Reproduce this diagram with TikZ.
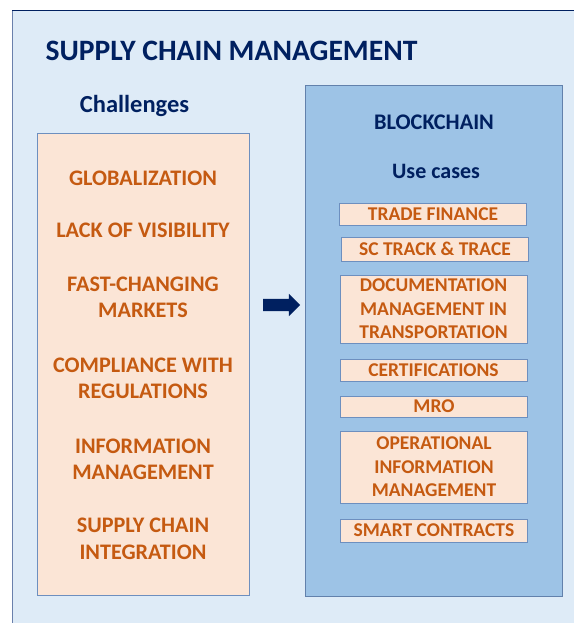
\documentclass[tikz,border=0pt]{standalone}
\usepackage{fontspec}
\setmainfont{Carlito}
\usetikzlibrary{shapes.arrows}
\definecolor{bgblue}{HTML}{DEEBF7}
\definecolor{panelblue}{HTML}{9DC3E6}
\definecolor{peach}{HTML}{FBE5D6}
\definecolor{rust}{HTML}{C55A11}
\definecolor{navy}{HTML}{002060}
\definecolor{edgeblue}{HTML}{6D8FBF}
\definecolor{frameleft}{HTML}{6A80AC}
\begin{document}
\begin{tikzpicture}[x=1pt,y=-1pt,
	every node/.style={font=\bfseries},
	heading/.style={text=navy,font=\bfseries\fontsize{22}{26}\selectfont},
	challenge/.style={text=rust,align=center,font=\bfseries\fontsize{22.2}{26.5}\selectfont},
	usecase/.style={draw=edgeblue,fill=peach,text=rust,align=center,inner sep=0pt,minimum width=187pt,font=\bfseries\fontsize{19.5}{23.5}\selectfont}]
	\useasboundingbox (0,0) rectangle (574,623);
	\fill[bgblue] (12,10) rectangle (574,623);
	\draw[frameleft,thick] (12,623)--(12,10);
	\draw[navy,thick] (12,10)--(574,10);

	% titles
	\node[heading,font=\bfseries\fontsize{29.6}{34}\selectfont,anchor=base west] (title) at (42,61) {SUPPLY CHAIN MANAGEMENT};
	\node[heading,anchor=base,font=\bfseries\fontsize{24.5}{28}\selectfont] (chtitle) at (134.5,113) {Challenges};

	% left panel
	\node[draw=edgeblue,fill=peach,minimum width=212pt,minimum height=462pt,inner sep=0pt] (chal) at (143,364) {};
	\node[challenge] (ch1) at (143,178) {GLOBALIZATION};
	\node[challenge] (ch2) at (143,230.5) {LACK OF VISIBILITY};
	\node[challenge] (ch3) at (143,297.5) {FAST-CHANGING\\MARKETS};
	\node[challenge] (ch4) at (143,378.5) {COMPLIANCE WITH\\REGULATIONS};
	\node[challenge] (ch5) at (143,459.5) {INFORMATION\\MANAGEMENT};
	\node[challenge] (ch6) at (143,539) {SUPPLY CHAIN\\INTEGRATION};

	% right panel
	\node[draw=edgeblue!90!black,fill=panelblue,minimum width=257pt,minimum height=511pt,inner sep=0pt] (bc) at (433.5,340.5) {};
	\node[heading,font=\bfseries\fontsize{22.3}{26}\selectfont] (bctitle) at (434,122) {BLOCKCHAIN};
	\node[heading,anchor=base,font=\bfseries\fontsize{22}{26}\selectfont] (uctitle) at (436,178) {Use cases};
	\node[usecase,minimum height=22pt] (uc1) at (433,214) {TRADE FINANCE};
	\node[usecase,minimum height=24pt] (uc2) at (435,249) {SC TRACK \& TRACE};
	\node[usecase,minimum height=68pt] (uc3) at (433.5,309) {DOCUMENTATION\\MANAGEMENT IN\\TRANSPORTATION};
	\node[usecase,minimum height=22pt] (uc4) at (433.5,370) {CERTIFICATIONS};
	\node[usecase,minimum height=21pt] (uc5) at (434,406.5) {MRO};
	\node[usecase,minimum height=72pt] (uc6) at (434,467) {OPERATIONAL\\INFORMATION\\MANAGEMENT};
	\node[usecase,minimum height=23pt] (uc7) at (434,530.5) {SMART CONTRACTS};

	% arrow between panels
	\node[single arrow,fill=navy,inner xsep=0pt,inner ysep=6pt,minimum height=37pt,single arrow head extend=5pt,single arrow head indent=0pt] (arrow) at (278.5,305) {};
\end{tikzpicture}
\end{document}
